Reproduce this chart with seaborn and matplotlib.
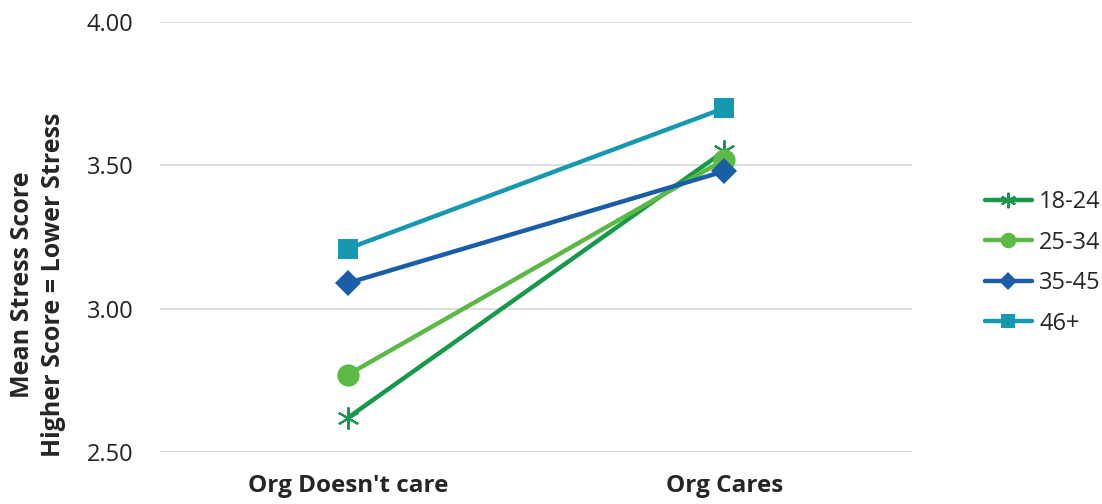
import pandas as pd
import matplotlib.pyplot as plt
import seaborn as sns

# dati
condizioni = ["Org Doesn't care", "Org Cares"]
eta_18_24 = [2.62, 3.55]
eta_25_34 = [2.77, 3.52]
eta_35_45 = [3.09, 3.48]
eta_46 = [3.21, 3.70]
gruppi = ["18-24", "25-34", "35-45", "46+"]
y_ticks = [2.50, 3.00, 3.50, 4.00]

df = pd.DataFrame({
    'condizione': condizioni * 4,
    'punteggio': eta_18_24 + eta_25_34 + eta_35_45 + eta_46,
    'gruppo': [g for g in gruppi for _ in condizioni],
})

colori = {"18-24": "#17984A", "25-34": "#5DB946", "35-45": "#1A5EA7", "46+": "#1699AE"}
marker = {"18-24": (6, 2, 0), "25-34": "o", "35-45": "D", "46+": "s"}
msize = {"18-24": 16, "25-34": 16, "35-45": 13, "46+": 15}

sns.set_style('white')
plt.rcParams['font.family'] = ['Open Sans', 'DejaVu Sans']

fig = plt.figure(figsize=(11.02, 5.04), dpi=100)
ax = fig.add_axes([0.145, 0.103, 0.683, 0.853])

for g in gruppi:
    sub = df[df['gruppo'] == g]
    sns.lineplot(data=sub, x='condizione', y='punteggio', ax=ax, color=colori[g],
                 linewidth=3.2, marker=marker[g], markersize=msize[g],
                 markeredgecolor=colori[g], markeredgewidth=1.5 if g == "18-24" else 0,
                 label=g)

ax.set_xlim(-0.5, 1.5)
ax.set_ylim(2.5, 4.0)
ax.set_yticks(y_ticks)
ax.set_yticklabels([f"{v:.2f}" for v in y_ticks], fontsize=17, color='#222222')
ax.tick_params(axis='x', labelsize=17.5, length=0, pad=16)
ax.tick_params(axis='y', length=0, pad=19)
for lab in ax.get_xticklabels():
    lab.set_fontweight('bold')
ax.yaxis.grid(True, color='#D9D9D9', linewidth=1.2)
ax.set_axisbelow(True)
for s in ax.spines.values():
    s.set_visible(False)

ax.set_xlabel('')
ax.set_ylabel('Mean Stress Score\nHigher Score = Lower Stress', fontsize=18,
              fontweight='bold', linespacing=1.35)
ax.yaxis.set_label_coords(-0.124, 0.39)

ax.legend(frameon=False, loc='center left', bbox_to_anchor=(1.068, 0.44), fontsize=17,
          handlelength=2.0, labelspacing=0.7, handletextpad=0.3, markerscale=0.7)

plt.savefig('out.png', dpi=100)
